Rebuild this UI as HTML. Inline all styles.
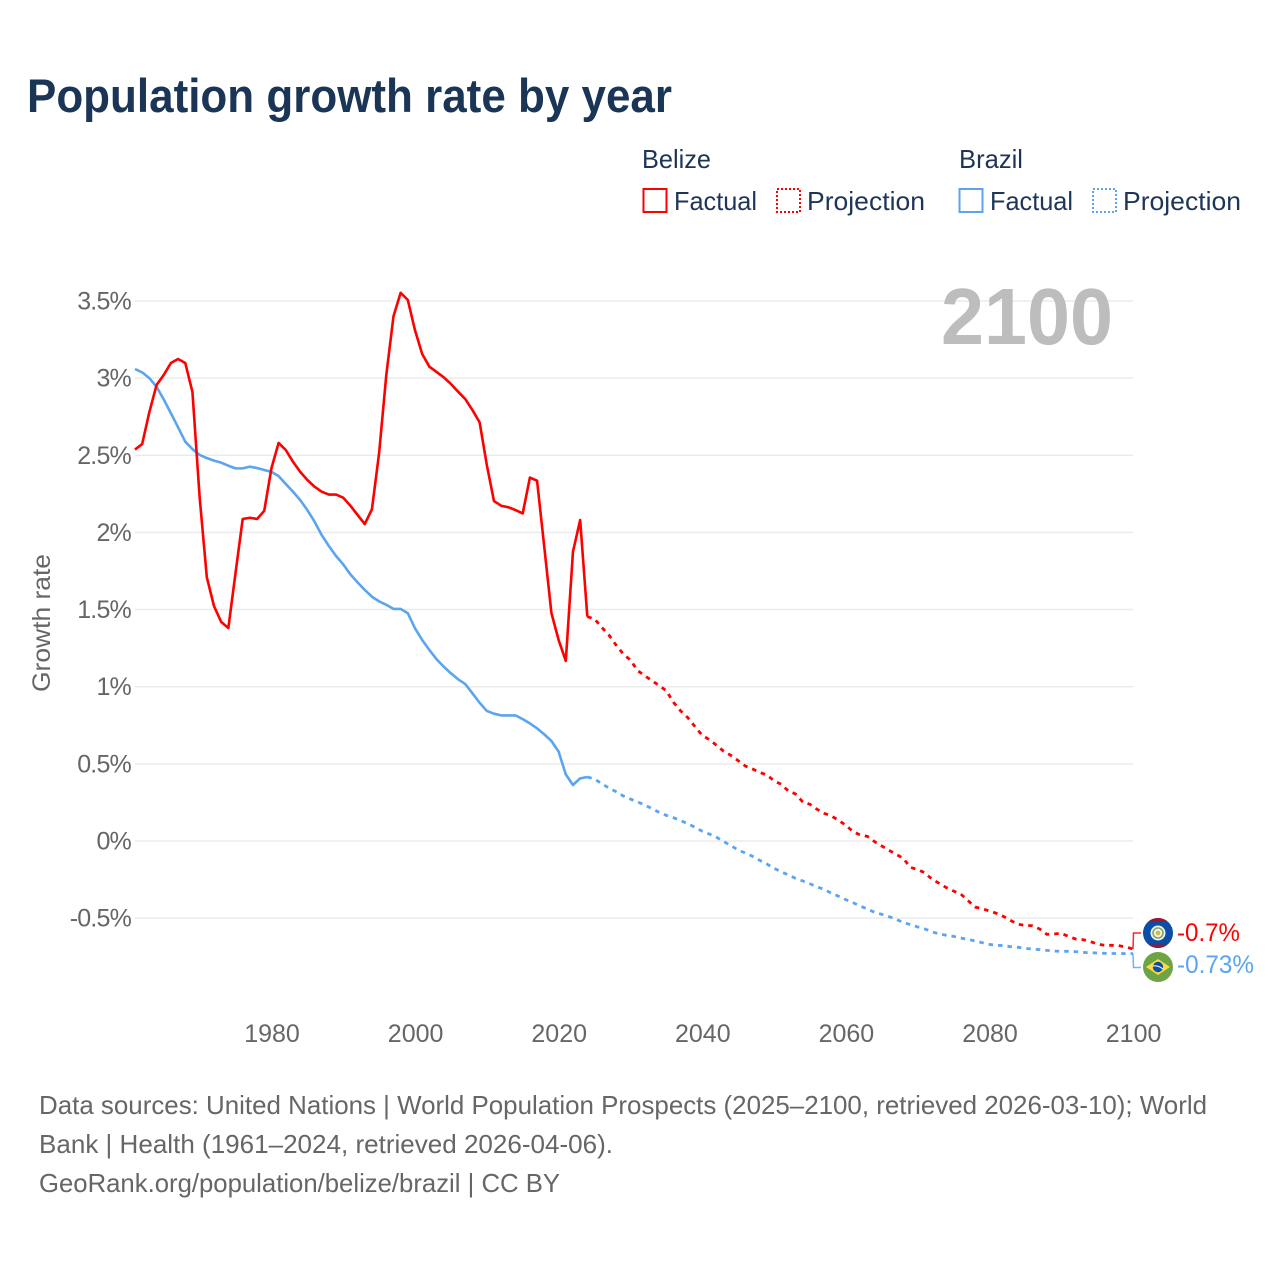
<!DOCTYPE html>
<html lang="en">
<head>
<meta charset="utf-8">
<title>Population growth rate by year</title>
<style>
  html, body { margin: 0; padding: 0; background: #fff; }
  svg { display: block; }
  text { font-family: "Liberation Sans", sans-serif; }
  .legend { font-size: 26px; fill: #1d3557; }
  .foot { font-size: 26px; fill: #666; }
  .tick { font-size: 25px; fill: #666; }
</style>
</head>
<body>
<svg id="chart" width="1280" height="1280" viewBox="0 0 1280 1280" xmlns="http://www.w3.org/2000/svg">
  <rect width="1280" height="1280" fill="#fff"/>
  <text x="27" y="112" font-size="47" font-weight="700" fill="#1a3556" textLength="645" lengthAdjust="spacingAndGlyphs">Population growth rate by year</text>

  <g>
    <text class="legend" x="642" y="168" textLength="69" lengthAdjust="spacingAndGlyphs">Belize</text>
    <text class="legend" x="959" y="168" textLength="64" lengthAdjust="spacingAndGlyphs">Brazil</text>
    <g>
      <rect x="643.5" y="189" width="23" height="23" fill="none" stroke="#ff0000" stroke-width="2"/>
      <text class="legend" x="674" y="210" textLength="83" lengthAdjust="spacingAndGlyphs">Factual</text>
    </g>
    <g>
      <rect x="777" y="189" width="23" height="23" fill="none" stroke="#ff0000" stroke-width="2" stroke-dasharray="2 2"/>
      <text class="legend" x="807" y="210" textLength="118" lengthAdjust="spacingAndGlyphs">Projection</text>
    </g>
    <g>
      <rect x="959.5" y="189" width="23" height="23" fill="none" stroke="#5ba4f0" stroke-width="2"/>
      <text class="legend" x="990" y="210" textLength="83" lengthAdjust="spacingAndGlyphs">Factual</text>
    </g>
    <g>
      <rect x="1093" y="189" width="23" height="23" fill="none" stroke="#5ba4f0" stroke-width="2" stroke-dasharray="2 2"/>
      <text class="legend" x="1123" y="210" textLength="118" lengthAdjust="spacingAndGlyphs">Projection</text>
    </g>
  </g>

  <g id="grid"></g>
  <g id="yticks"></g>
  <g id="xticks"></g>
  <text transform="translate(50,623) rotate(-90)" text-anchor="middle" font-size="25" fill="#666" textLength="138" lengthAdjust="spacingAndGlyphs">Growth rate</text>
  <text x="941" y="344" font-size="80" font-weight="700" fill="#bdbdbd" textLength="172" lengthAdjust="spacingAndGlyphs">2100</text>

  <g id="series"></g>

  <g>
    <circle cx="1158" cy="933" r="15" fill="#0a4ea6"/>
    <path d="M1148.5 921.4 A15 15 0 0 1 1167.5 921.4 Z" fill="#a3122f"/>
    <path d="M1148.5 944.6 A15 15 0 0 0 1167.5 944.6 Z" fill="#a3122f"/>
    <circle cx="1158" cy="933" r="7.5" fill="#f2f2f2"/>
    <circle cx="1158" cy="933" r="5" fill="none" stroke="#7fa860" stroke-width="1.6"/>
    <circle cx="1158" cy="933" r="2.4" fill="#d9b84a"/>
  </g>
  <g>
    <circle cx="1158" cy="967" r="15" fill="#6da544"/>
    <polygon points="1146,967 1158,959 1170,967 1158,975" fill="#ffda44"/>
    <circle cx="1158" cy="967" r="5.2" fill="#0b4ea2"/>
    <path d="M1153 966 Q1158 965 1163 969" fill="none" stroke="#f2f2f2" stroke-width="1.2"/>
  </g>
  <text x="1177" y="941" font-size="25" fill="#ff0000" textLength="63" lengthAdjust="spacingAndGlyphs">-0.7%</text>
  <text x="1177" y="973" font-size="25" fill="#5ba4f0" textLength="77" lengthAdjust="spacingAndGlyphs">-0.73%</text>

  <g>
    <text class="foot" x="39" y="1114" textLength="1168" lengthAdjust="spacingAndGlyphs">Data sources: United Nations | World Population Prospects (2025–2100, retrieved 2026-03-10); World</text>
    <text class="foot" x="39" y="1153" textLength="574" lengthAdjust="spacingAndGlyphs">Bank | Health (1961–2024, retrieved 2026-04-06).</text>
    <text class="foot" x="39" y="1192" textLength="521" lengthAdjust="spacingAndGlyphs">GeoRank.org/population/belize/brazil | CC BY</text>
  </g>
</svg>
<script>
const yTickValues = [3.5, 3, 2.5, 2, 1.5, 1, 0.5, 0, -0.5];
const yTickLabels = ["3.5%", "3%", "2.5%", "2%", "1.5%", "1%", "0.5%", "0%", "-0.5%"];
const xTickYears = [1980, 2000, 2020, 2040, 2060, 2080, 2100];
const xTickLabels = ["1980", "2000", "2020", "2040", "2060", "2080", "2100"];
const factualStartYear = 1961;
const projectionStartYear = 2024;

const belizeFactual = [
  2.537, 2.573, 2.78, 2.955, 3.02, 3.098, 3.124, 3.098, 2.91, 2.23,
  1.71, 1.523, 1.42, 1.38, 1.737, 2.087, 2.095, 2.087, 2.14, 2.415,
  2.58, 2.534, 2.458, 2.393, 2.34, 2.296, 2.264, 2.245, 2.245, 2.225,
  2.173, 2.113, 2.054, 2.15, 2.515, 3.02, 3.40, 3.553, 3.506, 3.31,
  3.156, 3.074, 3.04, 3.005, 2.962, 2.912, 2.864, 2.793, 2.713, 2.437,
  2.203, 2.173, 2.163, 2.145, 2.123, 2.355, 2.335, 1.907, 1.477, 1.303,
  1.167, 1.875, 2.08, 1.454
];
const brazilFactual = [
  3.059, 3.037, 3.0, 2.944, 2.862, 2.772, 2.681, 2.588, 2.54, 2.502,
  2.482, 2.465, 2.452, 2.432, 2.415, 2.415, 2.426, 2.417, 2.404, 2.393,
  2.365, 2.314, 2.264, 2.21, 2.145, 2.07, 1.983, 1.912, 1.847, 1.793,
  1.728, 1.676, 1.627, 1.583, 1.553, 1.531, 1.504, 1.504, 1.476, 1.378,
  1.303, 1.238, 1.178, 1.13, 1.087, 1.048, 1.017, 0.957, 0.896, 0.843,
  0.825, 0.814, 0.814, 0.814, 0.79, 0.762, 0.73, 0.691, 0.648, 0.579,
  0.432, 0.363, 0.406, 0.415
];
const belizeProjection = [
  1.454, 1.439, 1.385, 1.335, 1.27, 1.212, 1.173, 1.104, 1.071, 1.039,
  1.007, 0.974, 0.899, 0.843, 0.799, 0.741, 0.685, 0.657, 0.62, 0.581,
  0.555, 0.521, 0.486, 0.467, 0.445, 0.428, 0.391, 0.367, 0.324, 0.305,
  0.253, 0.238, 0.205, 0.179, 0.162, 0.134, 0.102, 0.0605, 0.039, 0.03,
  -0.004, -0.032, -0.06, -0.086, -0.112, -0.171, -0.186, -0.205, -0.248, -0.274,
  -0.302, -0.324, -0.343, -0.385, -0.428, -0.439, -0.454, -0.469, -0.49, -0.516,
  -0.54, -0.547, -0.549, -0.57, -0.605, -0.603, -0.598, -0.618, -0.635, -0.639,
  -0.65, -0.668, -0.676, -0.676, -0.678, -0.687, -0.7
];
const brazilProjection = [
  0.415, 0.402, 0.372, 0.343, 0.32, 0.292, 0.272, 0.253, 0.233, 0.21,
  0.186, 0.166, 0.151, 0.132, 0.112, 0.089, 0.063, 0.045, 0.024, -0.004,
  -0.03, -0.058, -0.078, -0.099, -0.125, -0.149, -0.177, -0.199, -0.22, -0.242,
  -0.259, -0.277, -0.298, -0.313, -0.339, -0.358, -0.38, -0.4, -0.421, -0.441,
  -0.462, -0.475, -0.49, -0.508, -0.527, -0.542, -0.557, -0.57, -0.588, -0.603,
  -0.611, -0.618, -0.629, -0.637, -0.648, -0.659, -0.67, -0.676, -0.678, -0.685,
  -0.689, -0.696, -0.7, -0.704, -0.709, -0.713, -0.715, -0.715, -0.717, -0.722,
  -0.724, -0.726, -0.728, -0.729, -0.729, -0.73, -0.73
];

const SVGNS = "http://www.w3.org/2000/svg";
const RED = "#ff0000";
const BLUE = "#5ba4f0";

function xScale(year) { return 135 + (year - 1961) * (1133 - 135) / (2100 - 1961); }
function yScale(v) { return 841 - v * 154.3; }

function make(tag, parent, attrs) {
  const el = document.createElementNS(SVGNS, tag);
  for (const k in attrs) el.setAttribute(k, attrs[k]);
  parent.appendChild(el);
  return el;
}
function linePath(values, startYear) {
  return values.map(function (v, i) {
    return (i ? "L" : "M") + xScale(startYear + i).toFixed(2) + " " + yScale(v).toFixed(2);
  }).join(" ");
}

const gridG = document.getElementById("grid");
const yG = document.getElementById("yticks");
const xG = document.getElementById("xticks");
const seriesG = document.getElementById("series");

yTickValues.forEach(function (v, i) {
  const line = make("line", gridG, { x1: 135, x2: 1133, y1: yScale(v), y2: yScale(v), stroke: "#ebebeb", "stroke-width": 1.5 });
  
  
  const t = make("text", yG, { x: 131, y: yScale(v) + 8.5, "text-anchor": "end", "class": "tick", "letter-spacing": "-0.8" });
  t.textContent = yTickLabels[i];
  
  
});
xTickYears.forEach(function (yr, i) {
  const t = make("text", xG, { x: xScale(yr) + 0.6, y: 1042, "text-anchor": "middle", "class": "tick" });
  t.textContent = xTickLabels[i];
  
  
});

const blueFact = make("path", seriesG, { d: linePath(brazilFactual, factualStartYear), fill: "none", stroke: BLUE, "stroke-width": 2.6, "stroke-linejoin": "round" });


const blueProj = make("path", seriesG, { d: linePath(brazilProjection, projectionStartYear), fill: "none", stroke: BLUE, "stroke-width": 2.8, "stroke-dasharray": "4.5 5" });


const redFact = make("path", seriesG, { d: linePath(belizeFactual, factualStartYear), fill: "none", stroke: RED, "stroke-width": 2.6, "stroke-linejoin": "round" });


const redProj = make("path", seriesG, { d: linePath(belizeProjection, projectionStartYear), fill: "none", stroke: RED, "stroke-width": 2.8, "stroke-dasharray": "4.5 5" });



const redEnd = yScale(belizeProjection[belizeProjection.length - 1]);
const blueEnd = yScale(brazilProjection[brazilProjection.length - 1]);
const redLink = make("path", seriesG, { d: "M1133 " + redEnd + " L1133.5 933 L1141 933", fill: "none", stroke: RED, "stroke-width": 1.5, opacity: 0.85 });


const blueLink = make("path", seriesG, { d: "M1133 " + blueEnd + " L1133.5 967.5 L1141 967.5", fill: "none", stroke: BLUE, "stroke-width": 1.5, opacity: 0.85 });


</script>
</body>
</html>
